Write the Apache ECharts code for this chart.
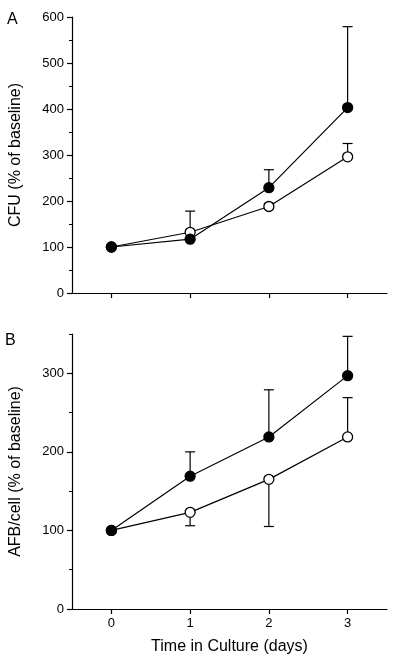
<!DOCTYPE html>
<html>
<head>
<meta charset="utf-8">
<script src="https://cdn.jsdelivr.net/npm/echarts@6/dist/echarts.min.js"></script>
<style>
html,body{margin:0;padding:0;background:#fff;}
#chart{width:400px;height:662px;}
</style>
</head>
<body>
<div id="chart"></div>
<script>
// ---- data ----
var days = [0, 1, 2, 3];
var xTickLabels = [0, 1, 2, 3];
var cfuTicks = [0, 100, 200, 300, 400, 500, 600];
var afbTicks = [0, 100, 200, 300];
var afbMinorTicks = [50, 150, 250, 350];

// Panel A: CFU (% of baseline)
var cfuFilled = [100, 117, 229, 403];
var cfuFilledErrEnd = [null, null, 268, 579];
var cfuOpen = [100, 132, 188, 296];
var cfuOpenErrEnd = [null, 178, 195, 325];

// Panel B: AFB/cell (% of baseline)
var afbFilled = [100, 169, 219, 297];
var afbFilledErrEnd = [null, 200, 279, 347];
var afbOpen = [100, 123, 165, 219];
var afbOpenErrEnd = [null, 106, 105, 269];

// ---- helpers ----
function pairs(xs, ys) { return xs.map(function (x, i) { return [x, ys[i]]; }); }
function errData(xs, ys, ends) {
  var out = [];
  xs.forEach(function (x, i) { if (ends[i] != null) out.push([x, ys[i], ends[i]]); });
  return out;
}
function errRender(params, api) {
  var x = api.value(0), y = api.value(1), e = api.value(2);
  var p1 = api.coord([x, y]);
  var p2 = api.coord([x, e]);
  var st = { stroke: '#000', lineWidth: 1.2 };
  return {
    type: 'group',
    children: [
      { type: 'line', shape: { x1: p1[0], y1: p1[1], x2: p2[0], y2: p2[1] }, style: st },
      { type: 'line', shape: { x1: p2[0] - 5, y1: p2[1], x2: p2[0] + 5, y2: p2[1] }, style: st }
    ]
  };
}
var FONT = 'Liberation Sans, Arial, Helvetica, sans-serif';
var axisLine = { show: true, onZero: false, lineStyle: { color: '#000', width: 1.2 } };

function xAxisCfg(gridIndex, showLabels) {
  return {
    type: 'value', gridIndex: gridIndex, min: -0.5, max: 3.5,
    axisLine: axisLine,
    splitLine: { show: false },
    axisTick: { show: true, length: 5, customValues: xTickLabels, lineStyle: { color: '#000', width: 1.2 } },
    axisLabel: { show: showLabels, customValues: xTickLabels, color: '#000', fontSize: 13, fontFamily: FONT, margin: 8 },
    name: showLabels ? 'Time in Culture (days)' : '',
    nameLocation: 'middle', nameGap: 30,
    nameTextStyle: { color: '#000', fontSize: 16, fontFamily: FONT }
  };
}

function lineSeries(name, xi, data, filled, z) {
  return {
    name: name, type: 'line', xAxisIndex: xi, yAxisIndex: xi === 0 ? 0 : 1,
    data: data, symbol: 'circle', symbolSize: 10, z: z,
    lineStyle: { color: '#000', width: 1.2 },
    itemStyle: { color: filled ? '#000' : '#fff', borderColor: '#000', borderWidth: 1.3 },
    emphasis: { disabled: true }, animation: false
  };
}
function errSeries(xi, yi, data) {
  return {
    type: 'custom', xAxisIndex: xi, yAxisIndex: yi, data: data, z: 1,
    renderItem: errRender, animation: false, silent: true
  };
}

var chart = echarts.init(document.getElementById('chart'), null, { renderer: 'canvas' });
chart.setOption({
  backgroundColor: '#fff',
  animation: false,
  textStyle: { fontFamily: FONT },
  grid: [
    { left: 70, right: 13, top: 17, height: 276 },
    { left: 70, right: 13, top: 334, height: 275 }
  ],
  xAxis: [xAxisCfg(0, false), xAxisCfg(1, true)],
  yAxis: [
    {
      type: 'value', gridIndex: 0, min: 0, max: 600, interval: 100, position: 'left',
      axisLine: axisLine, splitLine: { show: false },
      axisTick: { show: true, length: 5, lineStyle: { color: '#000', width: 1.2 } },
      minorTick: { show: true, splitNumber: 2, length: 3, lineStyle: { color: '#000', width: 1 } },
      axisLabel: { color: '#000', fontSize: 13, fontFamily: FONT, margin: 8 },
      name: 'CFU (% of baseline)', nameLocation: 'middle', nameGap: 48,
      nameTextStyle: { color: '#000', fontSize: 16, fontFamily: FONT }
    },
    {
      type: 'value', gridIndex: 1, min: 0, max: 350, position: 'left',
      axisLine: axisLine, splitLine: { show: false },
      axisTick: { show: true, length: 5, customValues: afbTicks, lineStyle: { color: '#000', width: 1.2 } },
      axisLabel: { customValues: afbTicks, color: '#000', fontSize: 13, fontFamily: FONT, margin: 8 },
      name: 'AFB/cell (% of baseline)', nameLocation: 'middle', nameGap: 48,
      nameTextStyle: { color: '#000', fontSize: 16, fontFamily: FONT }
    },
    {
      type: 'value', gridIndex: 1, min: 0, max: 350, position: 'left', offset: 0,
      axisLine: { show: false, onZero: false }, splitLine: { show: false },
      axisTick: { show: true, length: 3, customValues: afbMinorTicks, lineStyle: { color: '#000', width: 1 } },
      axisLabel: { show: false }
    }
  ],
  graphic: [
    { type: 'text', left: 7, top: 12, style: { text: 'A', fontSize: 16, fontFamily: FONT, fill: '#000' } },
    { type: 'text', left: 5, top: 333, style: { text: 'B', fontSize: 16, fontFamily: FONT, fill: '#000' } }
  ],
  series: [
    errSeries(0, 0, errData(days, cfuOpen, cfuOpenErrEnd)),
    errSeries(0, 0, errData(days, cfuFilled, cfuFilledErrEnd)),
    lineSeries('open A', 0, pairs(days, cfuOpen), false, 2),
    lineSeries('filled A', 0, pairs(days, cfuFilled), true, 3),
    errSeries(1, 1, errData(days, afbOpen, afbOpenErrEnd)),
    errSeries(1, 1, errData(days, afbFilled, afbFilledErrEnd)),
    lineSeries('open B', 1, pairs(days, afbOpen), false, 2),
    lineSeries('filled B', 1, pairs(days, afbFilled), true, 3)
  ]
});
</script>
</body>
</html>
